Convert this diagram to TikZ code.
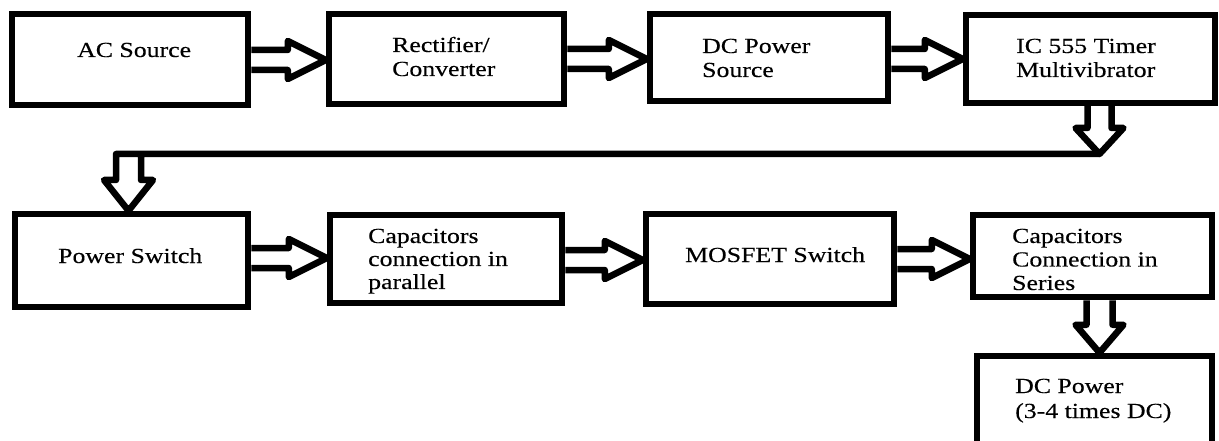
\documentclass[tikz,border=0pt]{standalone}
\usepackage{fontspec}
\setmainfont{Liberation Serif}[FakeStretch=1.2,FakeBold=0.3]
\usetikzlibrary{calc}
\newcommand\harr[3]{%
  \draw[arrowline] (#1.east |- 0,#3-10) -- ($(#2.west |- 0,#3-10)+(-38,0)$)
    -- ($(#2.west |- 0,#3-19)+(-38,0)$) -- (#2.west |- 0,#3)
    -- ($(#2.west |- 0,#3+19)+(-38,0)$) -- ($(#2.west |- 0,#3+10)+(-38,0)$)
    -- (#1.east |- 0,#3+10);}
\begin{document}
\begin{tikzpicture}[x=1pt,y=-1pt,
  box/.style={draw, line width=6.5pt, inner sep=0pt},
  txt/.style={inner sep=0pt, anchor=base west, font=\fontsize{21.5}{24}\selectfont},
  arrowline/.style={draw, line width=6.5pt, line join=round}]
\useasboundingbox (0,0) rectangle (1219,441);
% boxes
\node[box, minimum width=236pt, minimum height=91pt] (ac)  at (130,59.5) {};
\node[box, minimum width=235pt, minimum height=90pt] (rec) at (446.5,59) {};
\node[box, minimum width=238pt, minimum height=87pt] (dcs) at (769,57.5) {};
\node[box, minimum width=249pt, minimum height=88pt] (ic)  at (1090.5,59) {};
\node[box, minimum width=233pt, minimum height=93pt] (ps)  at (131.5,260.5) {};
\node[box, minimum width=232pt, minimum height=88pt] (cp)  at (446,259) {};
\node[box, minimum width=248pt, minimum height=90pt] (mos) at (770,259) {};
\node[box, minimum width=239pt, minimum height=82pt] (ser) at (1092.5,256) {};
\node[box, minimum width=235pt, minimum height=124pt] (dcp) at (1094.5,418) {};
% texts
\node[txt] (tac)  at (77,57) {AC Source};
\node[txt] (trec) at (392,52) {\begin{tabular}[t]{@{}l@{}}Rectifier/\\Converter\end{tabular}};
\node[txt] (tdcs) at (702,53) {\begin{tabular}[t]{@{}l@{}}DC Power\\Source\end{tabular}};
\node[txt] (tic)  at (1016,53) {\begin{tabular}[t]{@{}l@{}}IC 555 Timer\\Multivibrator\end{tabular}};
\node[txt] (tps)  at (58,263) {Power Switch};
\node[txt, font=\fontsize{21.5}{23}\selectfont] (tcp) at (368,243) {\begin{tabular}[t]{@{}l@{}}Capacitors\\connection in\\parallel\end{tabular}};
\node[txt] (tmos) at (685,262) {MOSFET Switch};
\node[txt, font=\fontsize{21.5}{23.5}\selectfont] (tser) at (1012,243) {\begin{tabular}[t]{@{}l@{}}Capacitors\\Connection in\\Series\end{tabular}};
\node[txt, font=\fontsize{21.5}{25}\selectfont] (tdcp) at (1015,393) {\begin{tabular}[t]{@{}l@{}}DC Power\\(3-4 times DC)\end{tabular}};
% horizontal block arrows
\harr{ac}{rec}{60}
\harr{rec}{dcs}{59}
\harr{dcs}{ic}{59}
\harr{ps}{cp}{258}
\harr{cp}{mos}{260}
\harr{mos}{ser}{259}
% return path
\coordinate (jr) at (1099.5,154);
\coordinate (jl) at (128.5,154);
\draw[arrowline] ($(ic.south -| jr)+(-12,0)$) -- ($(jr)+(-12,-26)$) -- ($(jr)+(-24,-26)$)
  -- (jr) -- ($(jr)+(24,-26)$) -- ($(jr)+(12,-26)$) -- ($(ic.south -| jr)+(12,0)$);
\draw[arrowline] (jr) -- ($(jl)+(-12.5,0)$) -- ($(jl)+(-12.5,26)$) -- ($(jl)+(-24.5,26)$)
  -- (jl |- ps.north) -- ($(jl)+(24.5,26)$) -- ($(jl)+(12.5,26)$) -- ($(jl)+(12.5,0)$);
\draw[arrowline] ($(ser.south -| jr)+(-13,0)$) -- ($(dcp.north -| jr)+(-13,-28)$) -- ($(dcp.north -| jr)+(-24,-28)$)
  -- (dcp.north -| jr) -- ($(dcp.north -| jr)+(24,-28)$) -- ($(dcp.north -| jr)+(13,-28)$) -- ($(ser.south -| jr)+(13,0)$);
\end{tikzpicture}
\end{document}
